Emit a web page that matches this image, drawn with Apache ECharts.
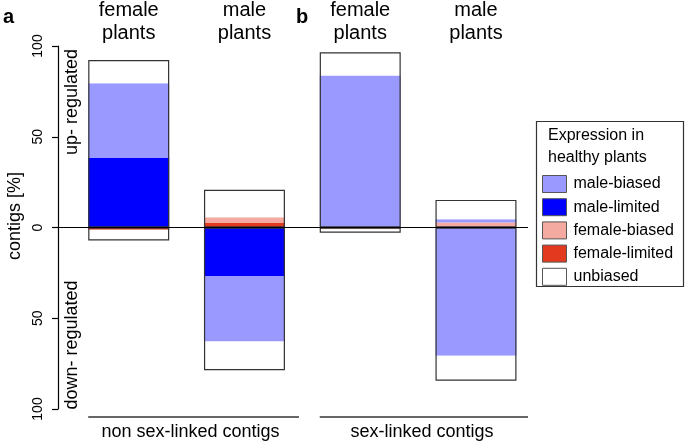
<!DOCTYPE html>
<html><head><meta charset="utf-8">
<script src="https://cdn.jsdelivr.net/npm/echarts@6/dist/echarts.min.js"></script>
<style>html,body{margin:0;padding:0;background:#fff}#c{width:686px;height:443px}</style>
</head><body><div id="c"></div>
<script>
// ---- data ----
const barNames = ['female\nplants', 'male\nplants', 'female\nplants', 'male\nplants'];
const barKeys = ['F-nonSL', 'M-nonSL', 'F-SL', 'M-SL'];
const groupLabels = ['non sex-linked contigs', 'sex-linked contigs'];
const panelLetters = ['a', 'b'];
const yTickValues = [-100, -50, 0, 50, 100];
const legendOrder = ['male-biased', 'male-limited', 'female-biased', 'female-limited', 'unbiased'];
const stackOrder = ['female-limited', 'female-biased', 'male-limited', 'male-biased', 'unbiased'];

// up-regulated (percent of contigs)
const upFemaleLimited = [0, 2.5, 0, 0];
const upFemaleBiased  = [0, 3.2, 0, 2.7];
const upMaleLimited   = [38.3, 0, 0, 0];
const upMaleBiased    = [41.2, 0, 83.7, 1.9];
const upUnbiased      = [12.8, 15.1, 12.8, 10.6];
// down-regulated (percent of contigs, plotted downward)
const downFemaleLimited = [1.3, 0, 0, 0];
const downFemaleBiased  = [0, 0, 1.0, 0];
const downMaleLimited   = [0, 26.7, 0, 0];
const downMaleBiased    = [0, 36.1, 0, 70.7];
const downUnbiased      = [5.8, 15.8, 1.9, 13.7];

const upData = {
  'female-limited': upFemaleLimited, 'female-biased': upFemaleBiased,
  'male-limited': upMaleLimited, 'male-biased': upMaleBiased, 'unbiased': upUnbiased
};
const downData = {
  'female-limited': downFemaleLimited, 'female-biased': downFemaleBiased,
  'male-limited': downMaleLimited, 'male-biased': downMaleBiased, 'unbiased': downUnbiased
};
const colors = {
  'male-biased': '#9999FF', 'male-limited': '#0000FF',
  'female-biased': '#F4AAA0', 'female-limited': '#E2391F', 'unbiased': '#FFFFFF'
};

const FONT = 'Liberation Sans, Arial, sans-serif';
const BAR_W = 81;

const series = [];
stackOrder.forEach(name => {
  series.push({
    name: name, type: 'bar', stack: 'up', barWidth: BAR_W, barGap: '-100%',
    itemStyle: { color: colors[name], borderWidth: 0 },
    emphasis: { disabled: true }, silent: true,
    data: upData[name].slice()
  });
});
stackOrder.forEach(name => {
  series.push({
    name: name, type: 'bar', stack: 'down', barWidth: BAR_W, barGap: '-100%',
    itemStyle: { color: colors[name], borderWidth: 0 },
    emphasis: { disabled: true }, silent: true,
    data: downData[name].map(v => -v)
  });
});
const upTotals = barKeys.map((k, i) => stackOrder.reduce((s, n) => s + upData[n][i], 0));
const downTotals = barKeys.map((k, i) => stackOrder.reduce((s, n) => s + downData[n][i], 0));
['outlineUp', 'outlineDown'].forEach((nm, j) => {
  series.push({
    name: nm, type: 'bar', barWidth: BAR_W, barGap: '-100%', z: 5,
    itemStyle: { color: 'rgba(0,0,0,0)', borderColor: '#333', borderWidth: 1.2 },
    emphasis: { disabled: true }, silent: true,
    data: j === 0 ? upTotals : downTotals.map(v => -v)
  });
});

const chart = echarts.init(document.getElementById('c'), null, { renderer: 'canvas' });
const option = {
  animation: false,
  backgroundColor: '#fff',
  textStyle: { fontFamily: FONT },
  grid: { left: 70.85, right: 152.15, top: 46, bottom: 34, containLabel: false },
  xAxis: { type: 'category', data: barKeys, show: false },
  yAxis: {
    type: 'value', min: yTickValues[0], max: yTickValues[yTickValues.length - 1], interval: 50,
    offset: 12.85,
    axisLine: { show: true, onZero: false, lineStyle: { color: '#000', width: 1.2 } },
    axisTick: { show: true, length: 6, lineStyle: { color: '#000', width: 1.2 } },
    splitLine: { show: false },
    axisLabel: {
      rotate: 90, margin: 13, color: '#000', fontSize: 14, fontFamily: FONT,
      formatter: v => String(Math.abs(v))
    }
  },
  legend: {
    data: legendOrder, orient: 'vertical', left: 537, top: 170,
    itemWidth: 24, itemHeight: 17, itemGap: 5.2, selectedMode: false,
    icon: 'rect',
    itemStyle: { borderColor: '#555', borderWidth: 1 },
    textStyle: { fontSize: 16, color: '#000', fontFamily: FONT, padding: [0, 0, 0, 2] }
  },
  series: series
};
chart.setOption(option);

// annotations positioned through the chart's own scales
const px = i => chart.convertToPixel({ xAxisIndex: 0 }, barKeys[i]);
const zeroY = chart.convertToPixel({ yAxisIndex: 0 }, 0);
const graphics = [];
// zero line from the y-axis line to the right end of the panel
graphics.push({ type: 'line', silent: true, z: 10,
  shape: { x1: 58, y1: zeroY, x2: 528, y2: zeroY }, style: { stroke: '#000', lineWidth: 1.2 } });
barKeys.forEach((k, i) => {
  graphics.push({
    type: 'text', x: px(i), y: -1.5, silent: true,
    style: { text: barNames[i], font: '20px ' + FONT, fill: '#000', align: 'center', verticalAlign: 'top', lineHeight: 23 }
  });
});
graphics.push({ type: 'text', x: 3, y: 7, silent: true,
  style: { text: panelLetters[0], font: 'bold 20px ' + FONT, fill: '#000', align: 'left', verticalAlign: 'top' } });
graphics.push({ type: 'text', x: 296, y: 7, silent: true,
  style: { text: panelLetters[1], font: 'bold 20px ' + FONT, fill: '#000', align: 'left', verticalAlign: 'top' } });
// rotated axis texts
graphics.push({ type: 'text', x: 15, y: 216, rotation: Math.PI / 2, silent: true,
  style: { text: 'contigs [%]', font: '18px ' + FONT, fill: '#000', align: 'center', verticalAlign: 'middle' } });
graphics.push({ type: 'text', x: 72, y: 102, rotation: Math.PI / 2, silent: true,
  style: { text: 'up- regulated', font: '18px ' + FONT, fill: '#000', align: 'center', verticalAlign: 'middle' } });
graphics.push({ type: 'text', x: 72, y: 345, rotation: Math.PI / 2, silent: true,
  style: { text: 'down- regulated', font: '18px ' + FONT, fill: '#000', align: 'center', verticalAlign: 'middle' } });
// group underlines and labels
const gx1 = px(0) - BAR_W / 2, gx2 = px(1) + BAR_W / 2 + 14;
const gx3 = px(2) - BAR_W / 2, gx4 = 528;
graphics.push({ type: 'line', silent: true, shape: { x1: gx1, y1: 417, x2: gx2, y2: 417 }, style: { stroke: '#333', lineWidth: 1.5 } });
graphics.push({ type: 'line', silent: true, shape: { x1: gx3, y1: 417, x2: gx4, y2: 417 }, style: { stroke: '#333', lineWidth: 1.5 } });
graphics.push({ type: 'text', x: 190.5, y: 432, silent: true,
  style: { text: groupLabels[0], font: '18px ' + FONT, fill: '#000', align: 'center', verticalAlign: 'middle' } });
graphics.push({ type: 'text', x: 422, y: 432, silent: true,
  style: { text: groupLabels[1], font: '18px ' + FONT, fill: '#000', align: 'center', verticalAlign: 'middle' } });
// legend box and title
graphics.push({ type: 'rect', silent: true, z: -1,
  shape: { x: 536.5, y: 121.5, width: 147, height: 165 },
  style: { fill: '#fff', stroke: '#333', lineWidth: 1.2 } });
graphics.push({ type: 'text', x: 548, y: 125, silent: true,
  style: { text: 'Expression in\nhealthy plants', font: '16px ' + FONT, fill: '#000', align: 'left', verticalAlign: 'top', lineHeight: 22 } });

chart.setOption({ graphic: graphics });
</script>
</body></html>
